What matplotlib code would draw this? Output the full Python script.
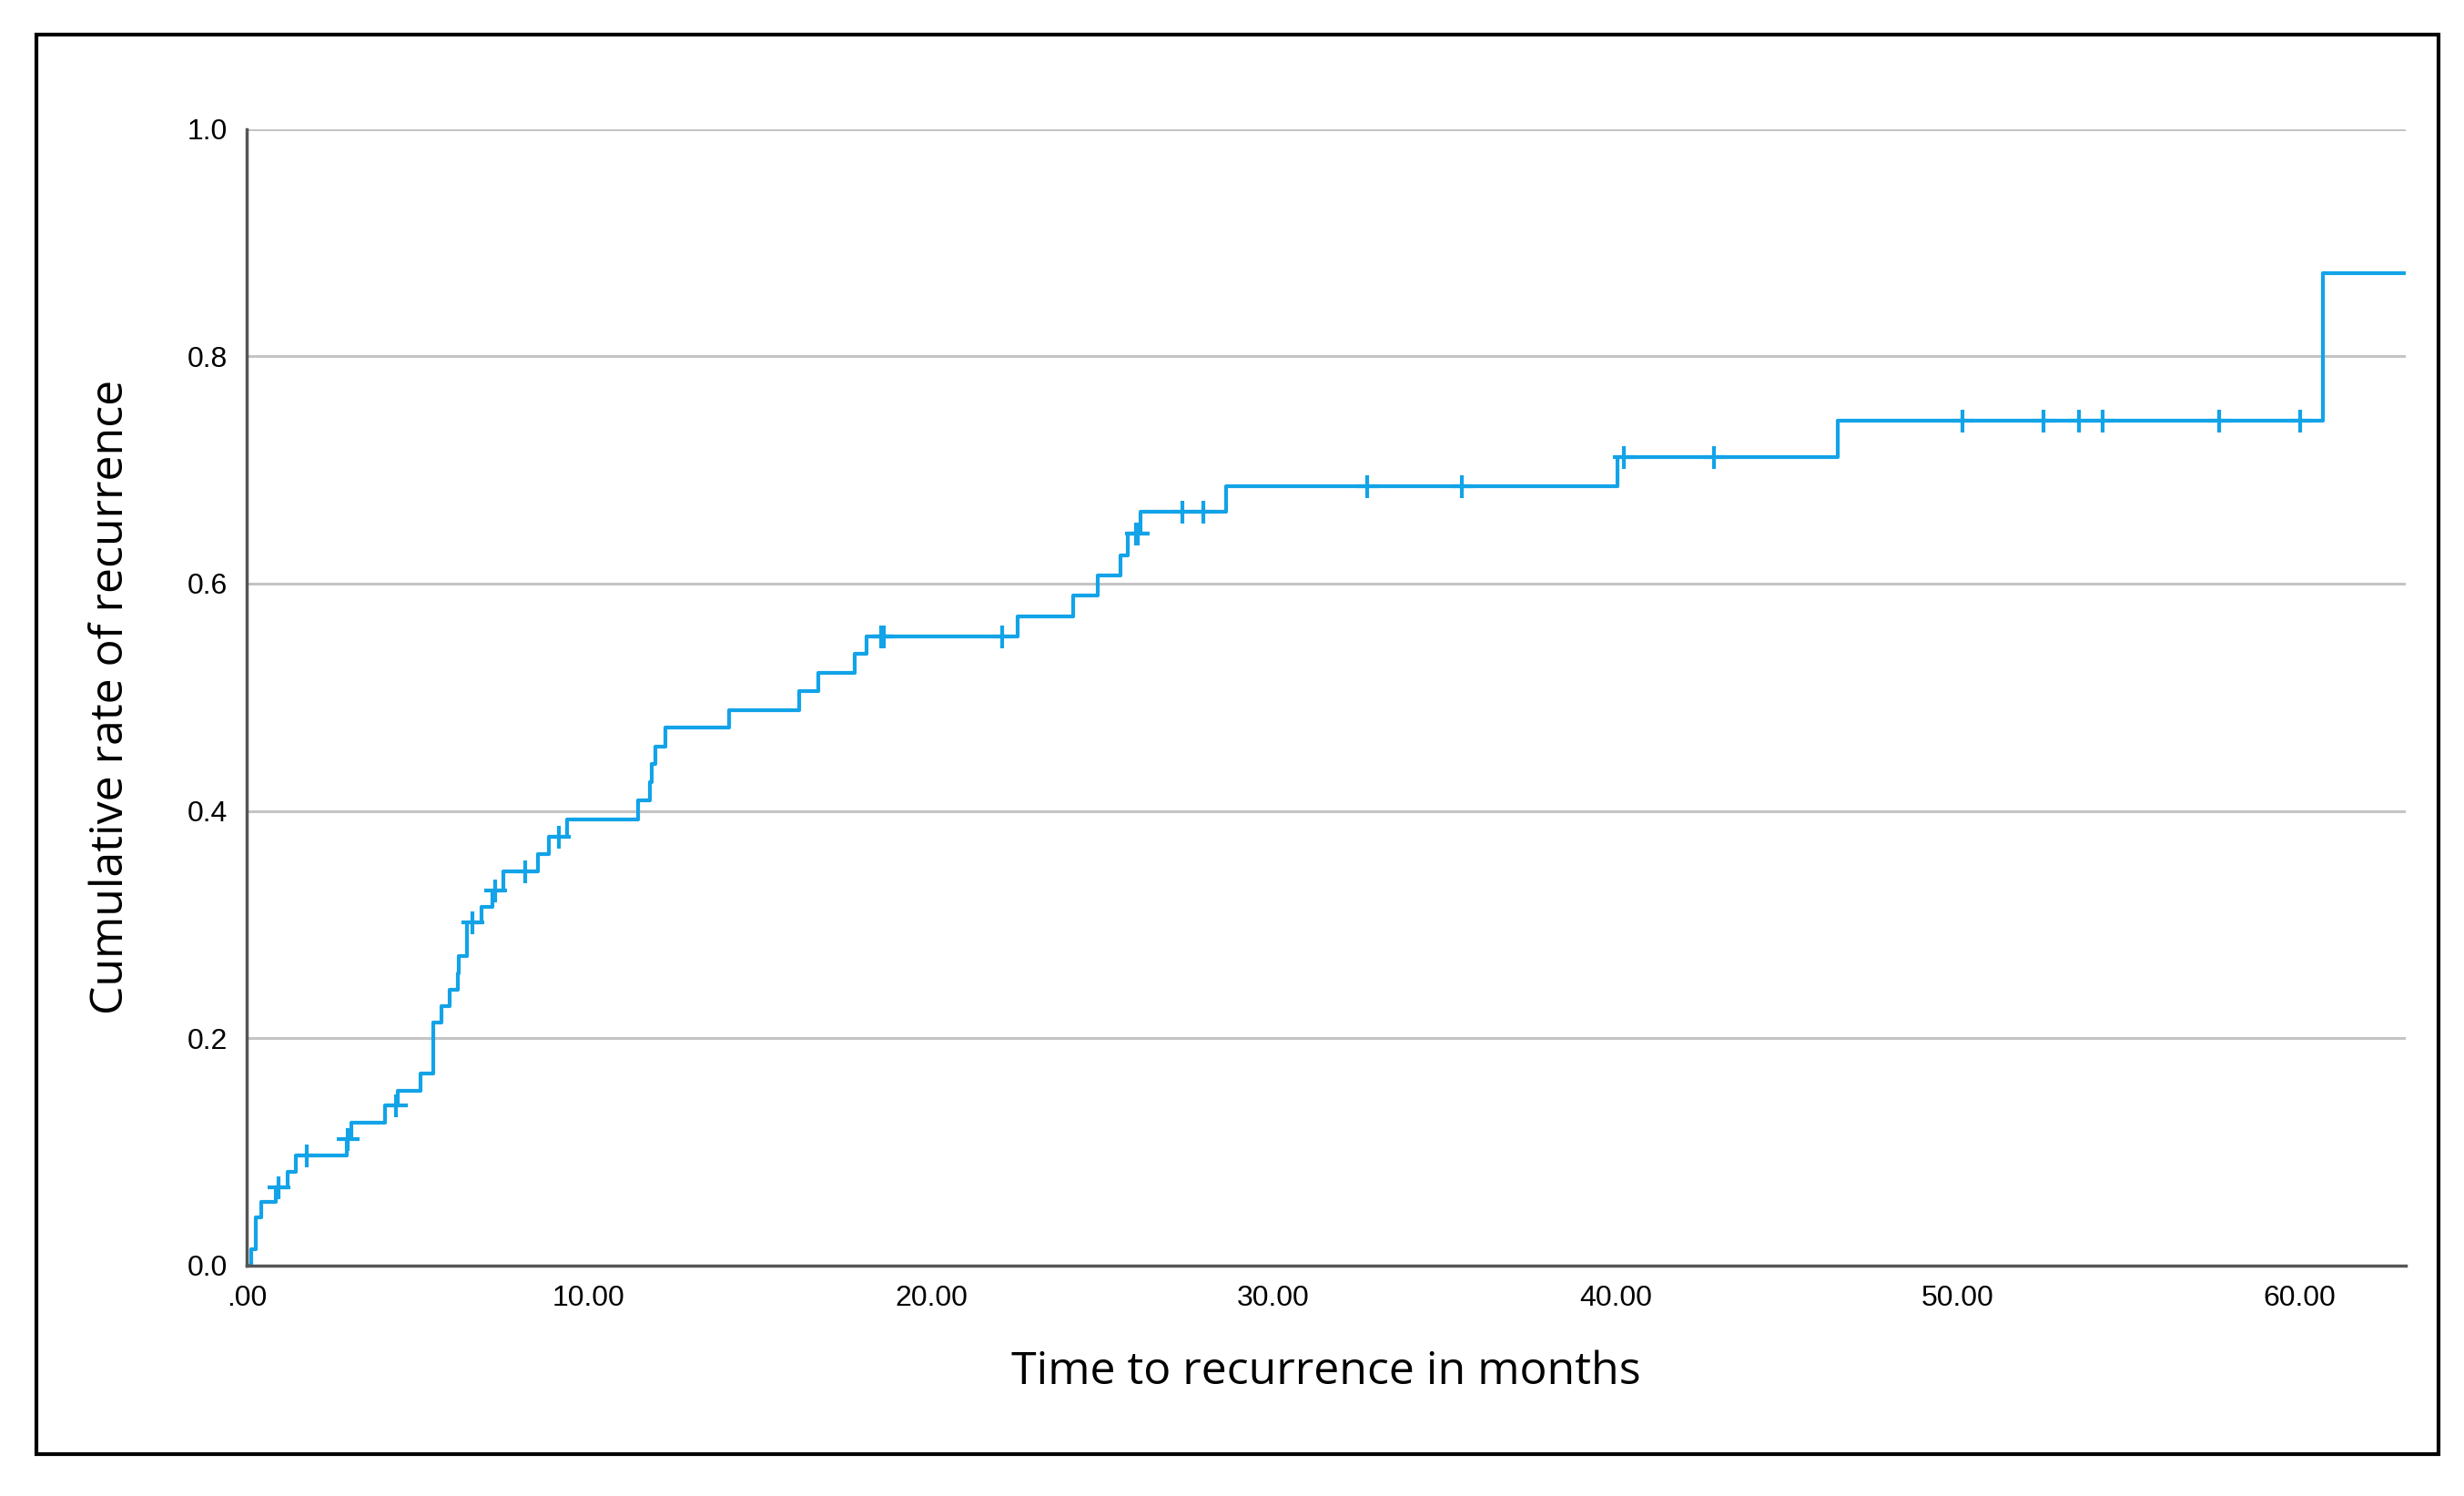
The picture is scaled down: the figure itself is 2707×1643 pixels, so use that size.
import numpy as np
import matplotlib.pyplot as plt
from matplotlib.patches import Rectangle

# Dane (czas w miesiacach, skumulowany odsetek nawrotow)
event_times = [0.13, 0.28, 0.42, 0.86, 1.19, 1.44, 2.92, 3.06, 4.05, 4.41,
               5.07, 5.45, 5.69, 5.93, 6.16, 6.20, 6.43, 6.86, 7.17, 7.51,
               8.52, 8.83, 9.37, 11.45, 11.79, 11.85, 11.94, 12.25, 14.09, 16.15,
               16.70, 17.77, 18.12, 22.53, 24.16, 24.88, 25.55, 25.75, 26.11, 28.62,
               40.07, 46.49, 60.68]
event_levels = [0.0145, 0.042, 0.056, 0.0687, 0.0826, 0.0968, 0.1115, 0.126, 0.1406, 0.154,
                0.169, 0.2135, 0.228, 0.243, 0.257, 0.272, 0.3016, 0.3158, 0.330, 0.3465,
                0.3617, 0.377, 0.3924, 0.409, 0.425, 0.441, 0.4565, 0.4733, 0.4885, 0.5054,
                0.5211, 0.538, 0.5534, 0.5713, 0.5895, 0.607, 0.6247, 0.644, 0.6634, 0.686,
                0.7115, 0.7435, 0.873]
censor_times = [0.92, 1.75, 2.95, 4.36, 6.60, 7.26, 8.15, 9.13, 18.55, 18.62,
                22.09, 26.00, 26.05, 27.35, 27.97, 32.75, 35.50, 40.26, 42.87, 50.15,
                52.52, 53.56, 54.24, 57.65, 60.00]
x_end = 63.1
x_ticks = [0, 10, 20, 30, 40, 50, 60]
x_tick_labels = ['.00', '10.00', '20.00', '30.00', '40.00', '50.00', '60.00']
y_ticks = [0.0, 0.2, 0.4, 0.6, 0.8, 1.0]

line_color = '#12a3e8'

fig = plt.figure(figsize=(27.07, 16.43), dpi=100)
ax = fig.add_axes([0.1001, 0.1541, 0.8763, 0.7597])

# Krzywa schodkowa
t = np.concatenate([[0.0], event_times, [x_end]])
y = np.concatenate([[0.0], event_levels, [event_levels[-1]]])
ax.step(t, y, where='post', color=line_color, lw=3)

# Obserwacje ocenzurowane
levels_all = np.concatenate([[0.0], event_levels])
idx = np.searchsorted(event_times, censor_times, side='right')
ax.plot(censor_times, levels_all[idx], linestyle='none', marker='+',
        markersize=18, markeredgewidth=3, color=line_color)

ax.set_xlim(0, x_end)
ax.set_ylim(0, 1.0)
ax.set_xticks(x_ticks)
ax.set_xticklabels(x_tick_labels)
ax.set_yticks(y_ticks)
ax.set_yticklabels(['%.1f' % v for v in y_ticks])
ax.tick_params(length=0, labelsize=23, pad=15)
for lab in ax.get_xticklabels() + ax.get_yticklabels():
    lab.set_family('Liberation Sans')

ax.yaxis.grid(True, color='#c4c4c4', lw=2.2)
ax.set_axisbelow(True)
for s in ['top', 'right']:
    ax.spines[s].set_visible(False)
for s in ['left', 'bottom']:
    ax.spines[s].set_color('#555555')
    ax.spines[s].set_linewidth(2.5)

ax.set_xlabel('Time to recurrence in months', fontsize=36, family='Open Sans',
              fontweight='medium', labelpad=30)
ax.set_ylabel('Cumulative rate of recurrence', fontsize=36, family='Open Sans',
              fontweight='medium', labelpad=42)

# Ramka wokol calego wykresu
fig.patches.append(Rectangle((0.0147, 0.028), 0.975, 0.9489, transform=fig.transFigure,
                             fill=False, edgecolor='black', lw=3))

fig.savefig('out.png', dpi=100)
